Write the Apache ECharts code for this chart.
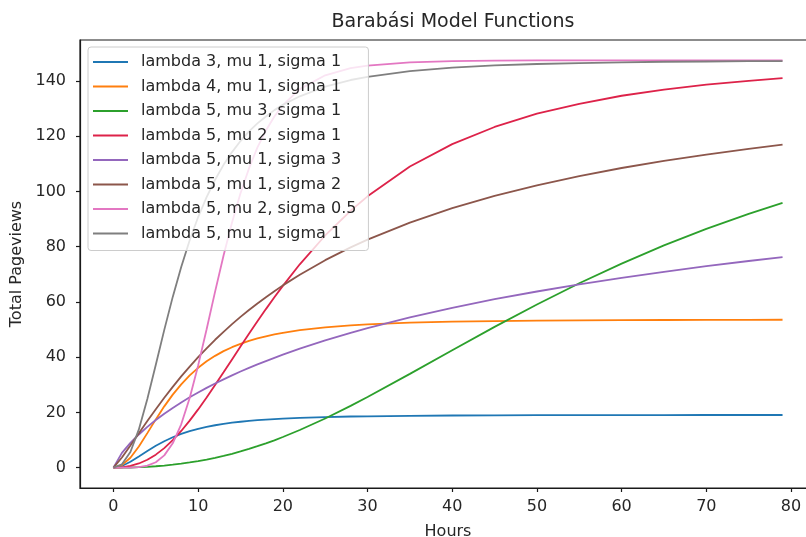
<!DOCTYPE html>
<html>
<head>
<meta charset="utf-8">
<script src="https://cdn.jsdelivr.net/npm/echarts@6/dist/echarts.min.js"></script>
<style>
  html, body { margin: 0; padding: 0; background: #fff; }
  #chart { width: 806px; height: 537px; }
</style>
</head>
<body>
<div id="chart"></div>
<script>
// Sample hours shared by every curve
const hours = [0, 1, 2, 3, 4, 5, 6, 7, 8, 9, 10, 11, 12, 13, 14, 15, 16, 17, 18, 19, 20,
  22, 25, 28, 30, 35, 40, 45, 50, 55, 60, 65, 70, 75, 79];

// Cumulative pageviews for each parameter set
const l3m1s1 = [0, 0.61, 2.12, 4.04, 6.04, 7.91, 9.56, 10.99, 12.19, 13.20, 14.04, 14.75, 15.34, 15.84, 16.26, 16.61, 16.92, 17.17, 17.39, 17.59, 17.75,
  18.01, 18.30, 18.50, 18.59, 18.77, 18.87, 18.94, 18.98, 19.01, 19.03, 19.04, 19.05, 19.06, 19.06];
const l4m1s1 = [0, 0.89, 3.56, 7.65, 12.49, 17.46, 22.18, 26.43, 30.16, 33.39, 36.13, 38.48, 40.46, 42.16, 43.59, 44.82, 45.88, 46.77, 47.54, 48.23, 48.80,
  49.74, 50.79, 51.50, 51.84, 52.45, 52.82, 53.05, 53.21, 53.31, 53.38, 53.43, 53.47, 53.50, 53.52];
const l5m3s1 = [0, 0.01, 0.05, 0.15, 0.31, 0.51, 0.76, 1.07, 1.44, 1.87, 2.37, 2.93, 3.55, 4.25, 5.02, 5.86, 6.77, 7.75, 8.80, 9.90, 11.08,
  13.61, 17.78, 22.35, 25.56, 33.93, 42.49, 50.96, 59.07, 66.74, 73.85, 80.42, 86.39, 91.85, 95.84];
const l5m2s1 = [0, 0.12, 0.61, 1.51, 2.85, 4.70, 7.07, 9.94, 13.27, 17.01, 21.08, 25.40, 29.89, 34.50, 39.17, 43.85, 48.42, 52.95, 57.38, 61.66, 65.80,
  73.59, 84.03, 92.97, 98.19, 109.0, 117.1, 123.3, 128.1, 131.7, 134.6, 136.8, 138.6, 140.0, 141.0];
const l5m1s3 = [0, 5.34, 8.94, 12.01, 14.74, 17.22, 19.50, 21.61, 23.59, 25.46, 27.20, 28.87, 30.45, 31.95, 33.40, 34.78, 36.10, 37.37, 38.58, 39.74, 40.88,
  43.05, 46.04, 48.78, 50.50, 54.37, 57.85, 60.96, 63.75, 66.33, 68.68, 70.88, 72.92, 74.79, 76.21];
const l5m1s2 = [0, 3.68, 7.98, 12.44, 16.87, 21.16, 25.30, 29.25, 33.01, 36.58, 39.97, 43.18, 46.28, 49.15, 51.93, 54.56, 57.06, 59.43, 61.70, 63.87, 65.97,
  69.84, 75.09, 79.72, 82.51, 88.70, 93.90, 98.40, 102.2, 105.5, 108.45, 111.05, 113.3, 115.4, 116.9];
const l5m2s05 = [0, 0.00, 0.02, 0.20, 0.73, 1.96, 4.44, 8.82, 15.70, 25.23, 37.0, 50.1, 63.7, 76.8, 88.7, 99.3, 108.3, 115.9, 122.0, 127.1, 131.2,
  137.0, 142.0, 144.6, 145.5, 146.7, 147.1, 147.3, 147.4, 147.4, 147.4, 147.4, 147.4, 147.4, 147.4];
const l5m1s1 = [0, 1.21, 5.67, 13.83, 24.84, 37.27, 49.86, 61.8, 72.6, 82.3, 90.7, 97.9, 104.2, 109.6, 114.2, 118.2, 121.7, 124.6, 127.1, 129.4, 131.3,
  134.4, 137.9, 140.3, 141.4, 143.5, 144.8, 145.6, 146.1, 146.4, 146.7, 146.9, 147.0, 147.1, 147.1];

const seriesNames = [
  'lambda 3, mu 1, sigma 1',
  'lambda 4, mu 1, sigma 1',
  'lambda 5, mu 3, sigma 1',
  'lambda 5, mu 2, sigma 1',
  'lambda 5, mu 1, sigma 3',
  'lambda 5, mu 1, sigma 2',
  'lambda 5, mu 2, sigma 0.5',
  'lambda 5, mu 1, sigma 1'
];
const seriesValues = [l3m1s1, l4m1s1, l5m3s1, l5m2s1, l5m1s3, l5m1s2, l5m2s05, l5m1s1];
const seriesColors = ['#1f77b4', '#ff7f0e', '#2ca02c', '#dd2249', '#9467bd', '#8c564b', '#e377c2', '#7f7f7f'];

// Axis ticks and ranges
const xTicks = [0, 10, 20, 30, 40, 50, 60, 70, 80];
const yTicks = [0, 20, 40, 60, 80, 100, 120, 140];
const xRange = [-3.95, 82.95];
const yRange = [-7.37, 154.78];

const font = 'DejaVu Sans';
const ink = '#262626';
const spine = '#1a1a1a';

const chart = echarts.init(document.getElementById('chart'), null, { renderer: 'canvas' });

chart.setOption({
  animation: false,
  backgroundColor: '#ffffff',
  textStyle: { fontFamily: font, color: ink },
  title: {
    text: 'Barabási Model Functions',
    left: 448,
    textAlign: 'center',
    top: 8,
    textStyle: { fontFamily: font, fontSize: 19, fontWeight: 'normal', color: ink }
  },
  grid: {
    left: 80,
    top: 40,
    width: 736,
    height: 448,
    show: true,
    borderColor: spine,
    borderWidth: 1.2,
    outerBoundsMode: 'none',
    containLabel: false
  },
  legend: {
    orient: 'vertical',
    left: 88,
    top: 47,
    padding: [7, 12, 9, 5],
    itemGap: 8.5,
    itemWidth: 35,
    itemHeight: 2,
    icon: 'rect',
    backgroundColor: 'rgba(255,255,255,0.8)',
    borderColor: '#cccccc',
    borderWidth: 1,
    borderRadius: 3,
    textStyle: { fontFamily: font, fontSize: 16, color: ink, lineHeight: 16, padding: [0, 0, 0, 8] },
    data: seriesNames
  },
  xAxis: {
    type: 'value',
    min: xRange[0],
    max: xRange[1],
    name: 'Hours',
    nameLocation: 'middle',
    nameGap: 36,
    nameTextStyle: { fontFamily: font, fontSize: 16, color: ink },
    splitLine: { show: false },
    axisLine: { show: true, onZero: false, lineStyle: { color: spine, width: 1.2 } },
    axisTick: { show: true, length: 4, customValues: xTicks, lineStyle: { color: spine, width: 1.2 } },
    axisLabel: { customValues: xTicks, margin: 11, fontFamily: font, fontSize: 16, color: ink }
  },
  yAxis: {
    type: 'value',
    min: yRange[0],
    max: yRange[1],
    name: 'Total Pageviews',
    nameLocation: 'middle',
    nameGap: 52,
    nameRotate: 90,
    nameTextStyle: { fontFamily: font, fontSize: 16, color: ink },
    splitLine: { show: false },
    axisLine: { show: true, onZero: false, lineStyle: { color: spine, width: 1.2 } },
    axisTick: { show: true, length: 4, customValues: yTicks, lineStyle: { color: spine, width: 1.2 } },
    axisLabel: { customValues: yTicks, margin: 14, fontFamily: font, fontSize: 16, color: ink }
  },
  series: seriesNames.map((name, i) => ({
    name: name,
    type: 'line',
    data: hours.map((h, j) => [h, seriesValues[i][j]]),
    showSymbol: false,
    symbol: 'none',
    smooth: false,
    color: seriesColors[i],
    lineStyle: { width: 1.8, color: seriesColors[i] },
    emphasis: { disabled: true },
    z: 2 + i * 0.01
  }))
});
</script>
</body>
</html>
